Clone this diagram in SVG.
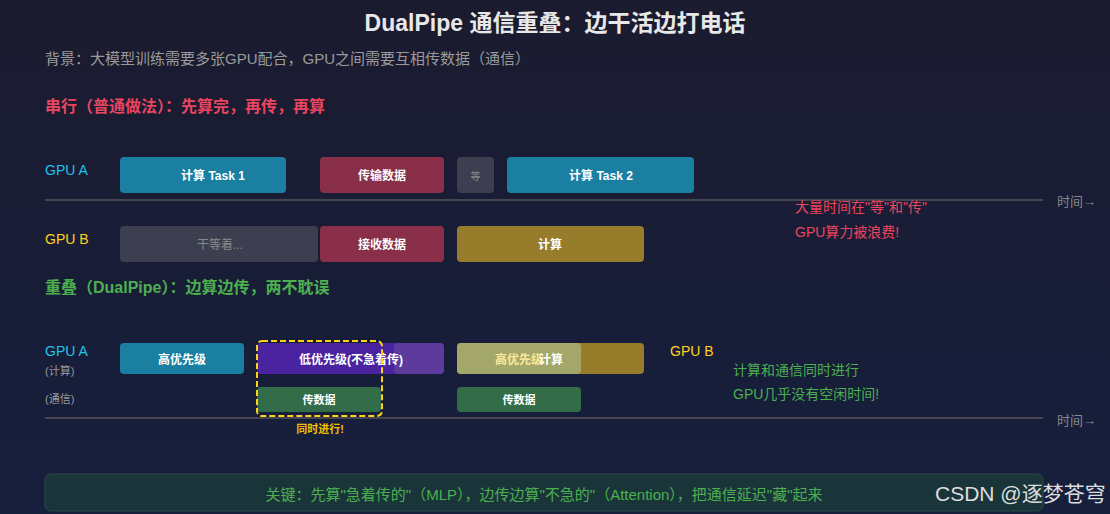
<svg xmlns="http://www.w3.org/2000/svg" width="1110" height="514" viewBox="0 0 1110 514">
<defs>
<linearGradient id="bg" x1="0" y1="0" x2="0" y2="1">
<stop offset="0" stop-color="#1b1b2f"/>
<stop offset="1" stop-color="#161f3d"/>
</linearGradient>
</defs>
<style>
text{font-family:"Liberation Sans","Noto Sans CJK SC",sans-serif}
.bt{font-size:12px;fill:#ffffff;text-anchor:middle;dominant-baseline:central;font-weight:bold}
.axis{stroke:#45454f;stroke-width:2}
.tm{font-size:13px;fill:#888;dominant-baseline:central}
.lbl{font-size:14px;dominant-baseline:central}
.sm{font-size:11px;fill:#999;dominant-baseline:central}
.note{font-size:14px;dominant-baseline:central}
</style>
<rect width="1110" height="514" fill="url(#bg)"/>
<text x="555" y="23" font-size="23" font-weight="bold" fill="#e8e8e8" text-anchor="middle" dominant-baseline="central">DualPipe 通信重叠：边干活边打电话</text>
<text x="45" y="58" font-size="15" fill="#9a9a9a" dominant-baseline="central">背景：大模型训练需要多张GPU配合，GPU之间需要互相传数据（通信）</text>
<text x="45" y="106" font-size="16" font-weight="bold" fill="#e94560" dominant-baseline="central">串行（普通做法）：先算完，再传，再算</text>

<g id="serial">
<text class="lbl" x="45" y="170" fill="#1ec4ea">GPU A</text>
<text class="lbl" x="45" y="239" fill="#ffd21a">GPU B</text>
<g id="a-task1"><rect x="120" y="157" width="166" height="36" rx="4" fill="#1b7fa2"/><text class="bt" x="213" y="176">计算 Task 1</text></g>
<g id="a-send"><rect x="320" y="157" width="124" height="36" rx="4" fill="#8a2f4a"/><text class="bt" x="382" y="176">传输数据</text></g>
<g id="a-wait"><rect x="457" y="157" width="37" height="36" rx="4" fill="#3d3f50"/><text class="bt" x="475.5" y="176" style="font-weight:normal;fill:#888;font-size:10px">等</text></g>
<g id="a-task2"><rect x="507" y="157" width="187" height="36" rx="4" fill="#1b7fa2"/><text class="bt" x="601" y="176">计算 Task 2</text></g>
<g id="b-idle"><rect x="120" y="226" width="198" height="36" rx="4" fill="#3d3f50"/><text class="bt" x="220" y="245" style="font-weight:normal;fill:#8a8a8a">干等着...</text></g>
<g id="b-recv"><rect x="320" y="226" width="124" height="36" rx="4" fill="#8a2f4a"/><text class="bt" x="382" y="245">接收数据</text></g>
<g id="b-calc"><rect x="457" y="226" width="187" height="36" rx="4" fill="#977d2b"/><text class="bt" x="550" y="245">计算</text></g>
<line class="axis" x1="45" y1="200" x2="1043" y2="200"/>
<text class="tm" x="1057" y="201">时间→</text>
<text class="note" x="795" y="207" fill="#e94560">大量时间在"等"和"传"</text>
<text class="note" x="795" y="232" fill="#e94560">GPU算力被浪费!</text>
</g>

<text x="45" y="287" font-size="16" font-weight="bold" fill="#4caf50" dominant-baseline="central">重叠（DualPipe）：边算边传，两不耽误</text>

<g id="overlap">
<text class="lbl" x="45" y="351" fill="#1ec4ea">GPU A</text>
<text class="sm" x="45" y="371">(计算)</text>
<text class="sm" x="45" y="399">(通信)</text>
<g id="hi1"><rect x="120" y="343" width="124" height="31" rx="4" fill="#1b7fa2"/><text class="bt" x="182" y="360">高优先级</text></g>
<g id="lo"><rect x="257" y="343" width="187" height="31" rx="4" fill="#4a24a0"/><rect x="394" y="343" width="50" height="31" rx="4" fill="#5c3a9e"/><text class="bt" x="351" y="360">低优先级(不急着传)</text></g>
<g id="comm1"><rect x="257" y="387" width="124" height="25" rx="4" fill="#326c48"/><text class="bt" x="319" y="400" style="font-size:11px">传数据</text></g>
<rect x="257" y="341" width="125" height="75" rx="5" fill="none" stroke="#ffd21a" stroke-width="2" stroke-dasharray="6,3"/>
<text x="320" y="429" font-size="11" font-weight="bold" fill="#f0c000" text-anchor="middle" dominant-baseline="central">同时进行!</text>
<g id="hi2"><rect x="457" y="343" width="187" height="31" rx="4" fill="#977d2b"/><rect x="457" y="343" width="124" height="31" rx="4" fill="#a3a86a"/><text class="bt" x="519" y="360" style="fill:#ffe89a">高优先级</text><text class="bt" x="551" y="360">计算</text></g>
<g id="comm2"><rect x="457" y="387" width="124" height="25" rx="4" fill="#326c48"/><text class="bt" x="519" y="400" style="font-size:11px">传数据</text></g>
<text class="lbl" x="670" y="351" fill="#ffd21a">GPU B</text>
<text class="note" x="733" y="370" fill="#4caf50">计算和通信同时进行</text>
<text class="note" x="733" y="394" fill="#4caf50">GPU几乎没有空闲时间!</text>
<line class="axis" x1="45" y1="418" x2="1043" y2="418"/>
<text class="tm" x="1057" y="420">时间→</text>
</g>

<g id="key">
<rect x="45" y="474" width="998" height="37" rx="6" fill="#1b3a3a" fill-opacity="0.85" stroke="#2b4d45" stroke-width="1"/>
<text x="544" y="494" font-size="15" fill="#4caf50" text-anchor="middle" dominant-baseline="central">关键：先算"急着传的"（MLP），边传边算"不急的"（Attention），把通信延迟"藏"起来</text>
</g>
<text x="935" y="493" font-size="21" fill="#dddddd" dominant-baseline="central">CSDN @逐梦苍穹</text>
</svg>
